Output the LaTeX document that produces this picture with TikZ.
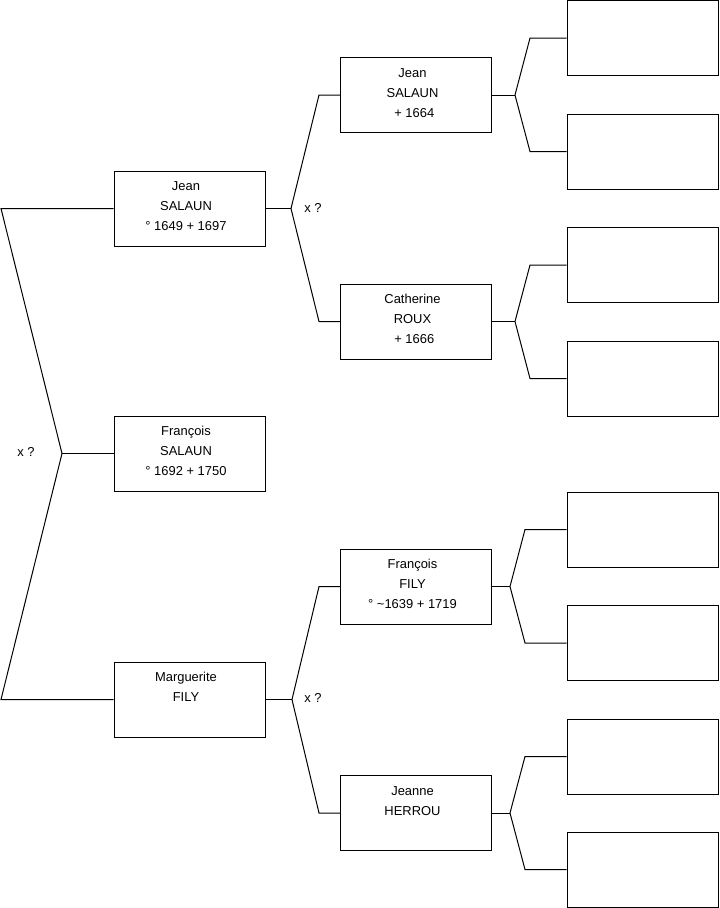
\documentclass[tikz,border=0pt]{standalone}
\usepackage{fontspec}
\setmainfont{Liberation Sans}
\usepackage{tikz}
\usetikzlibrary{calc}

% text block of a person, first baseline is the reference point
\newcommand{\infolines}[1]{\parbox[t]{110pt}{\centering #1}}

\tikzset{
    personbox/.style={draw, line width=0.75pt, minimum width=113.25pt,
        minimum height=56.25pt, inner sep=0pt},
    persontext/.style={anchor=base, inner sep=0pt,
        font=\fontsize{9.7}{15}\selectfont},
    link/.style={line width=0.75pt},
    wedding/.style={inner sep=0pt, font=\fontsize{9.7}{15}\selectfont}
}

\begin{document}
\begin{tikzpicture}[x=0.75pt,y=-0.75pt]
\useasboundingbox (0,0) rectangle (719,908);

% Generation 1
\node[personbox] (js1) at (189.5,208.5) {};
\node[persontext] (js1t) at ($(js1.north)+(-3.5,20)$)
    {\infolines{Jean\\SALAUN\\° 1649 + 1697}};
\node[personbox] (fs1) at (189.5,453.5) {};
\node[persontext] (fs1t) at ($(fs1.north)+(-3.5,20)$)
    {\infolines{François\\SALAUN\\° 1692 + 1750}};
\node[personbox] (mf1) at (189.5,699.5) {};
\node[persontext] (mf1t) at ($(mf1.north)+(-3.5,20)$)
    {\infolines{Marguerite\\FILY}};

% Generation 2
\node[personbox] (js2) at (416,95) {};
\node[persontext] (js2t) at ($(js2.north)+(-3.5,20)$)
    {\infolines{Jean\\SALAUN\\\ + 1664}};
\node[personbox] (cr2) at (416,321.5) {};
\node[persontext] (cr2t) at ($(cr2.north)+(-3.5,20)$)
    {\infolines{Catherine\\ROUX\\\ + 1666}};
\node[personbox] (ff2) at (416,586.5) {};
\node[persontext] (ff2t) at ($(ff2.north)+(-3.5,20)$)
    {\infolines{François\\FILY\\° \textasciitilde1639 + 1719}};
\node[personbox] (jh2) at (416,813) {};
\node[persontext] (jh2t) at ($(jh2.north)+(-3.5,20)$)
    {\infolines{Jeanne\\HERROU}};

% Generation 3 (empty)
\node[personbox] (g1) at (642.5,38) {};
\node[personbox] (g2) at (642.5,151.5) {};
\node[personbox] (g3) at (642.5,265) {};
\node[personbox] (g4) at (642.5,378.5) {};
\node[personbox] (g5) at (642.5,529.5) {};
\node[personbox] (g6) at (642.5,643) {};
\node[personbox] (g7) at (642.5,756.5) {};
\node[personbox] (g8) at (642.5,869.5) {};

% Parents of François
\coordinate (r0) at (62,453.5);
\coordinate (r1) at (1,208.5);
\coordinate (r2) at (1,699.5);
\draw[link] (js1.west) -- (r1) -- (r0) -- (r2) -- (mf1.west);
\draw[link] (r0) -- (fs1.west);
\node[wedding] (m0) at (26,452) {x ?};

% Parents of Jean
\coordinate (u0) at (291,208.5);
\coordinate (u1) at (319,95);
\coordinate (u2) at (319,321.5);
\draw[link] (js1.east) -- (u0);
\draw[link] (js2.west) -- (u1) -- (u0) -- (u2) -- (cr2.west);
\node[wedding] (m1) at (313,208) {x ?};

% Parents of Marguerite
\coordinate (v0) at (292,699.5);
\coordinate (v1) at (319,586.5);
\coordinate (v2) at (319,813);
\draw[link] (mf1.east) -- (v0);
\draw[link] (ff2.west) -- (v1) -- (v0) -- (v2) -- (jh2.west);
\node[wedding] (m2) at (313,698) {x ?};

% Parents of Jean (+ 1664)
\coordinate (a0) at (515,95);
\coordinate (a1) at (530,38);
\coordinate (a2) at (530,151.5);
\draw[link] (js2.east) -- (a0);
\draw[link] (g1.west) -- (a1) -- (a0) -- (a2) -- (g2.west);

% Parents of Catherine
\coordinate (b0) at (515,321.5);
\coordinate (b1) at (530,265);
\coordinate (b2) at (530,378.5);
\draw[link] (cr2.east) -- (b0);
\draw[link] (g3.west) -- (b1) -- (b0) -- (b2) -- (g4.west);

% Parents of François FILY
\coordinate (c0) at (510,586.5);
\coordinate (c1) at (525,529.5);
\coordinate (c2) at (525,643);
\draw[link] (ff2.east) -- (c0);
\draw[link] (g5.west) -- (c1) -- (c0) -- (c2) -- (g6.west);

% Parents of Jeanne
\coordinate (d0) at (510,813);
\coordinate (d1) at (525,756.5);
\coordinate (d2) at (525,869.5);
\draw[link] (jh2.east) -- (d0);
\draw[link] (g7.west) -- (d1) -- (d0) -- (d2) -- (g8.west);

\end{tikzpicture}
\end{document}
